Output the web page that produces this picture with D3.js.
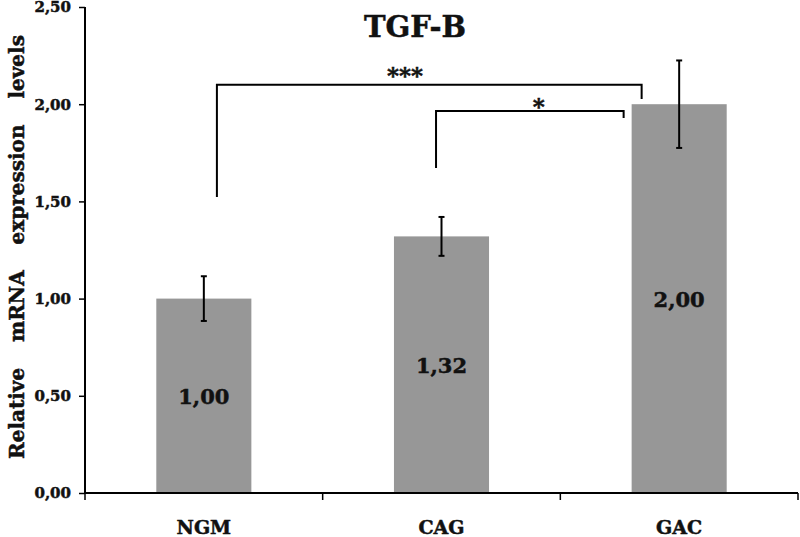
<!DOCTYPE html>
<html>
<head>
<meta charset="utf-8">
<script src="https://cdn.jsdelivr.net/npm/d3@7"></script>
<style>
  html, body { margin: 0; padding: 0; background: #fff; }
  svg { display: block; }
  text { font-family: "DejaVu Serif", serif; font-weight: bold; fill: #111; stroke: #111; stroke-width: 0.5px; }
</style>
</head>
<body>
<svg id="chart" width="800" height="537"></svg>
<script>
// ---- data ----
const categories = ["NGM", "CAG", "GAC"];
const values = [1.00, 1.32, 2.00];
const errors = [0.115, 0.10, 0.225];
const valueLabels = ["1,00", "1,32", "2,00"];
const yTicks = [0, 0.5, 1.0, 1.5, 2.0, 2.5];
const yTickLabels = ["0,00", "0,50", "1,00", "1,50", "2,00", "2,50"];
const title = "TGF-B";
const yAxisTitle = "Relative\u00a0\u00a0mRNA\u00a0\u00a0expression\u00a0\u00a0levels";
// significance brackets: from/to categories, top level, left & right drop ends (data units)
const sigFrom = ["NGM", "CAG"];
const sigTo = ["GAC", "GAC"];
const sigLevel = [2.10, 1.965];
const sigLeftEnd = [1.523, 1.672];
const sigRightEnd = [2.027, 1.929];
const sigLabel = ["***", "*"];

// ---- layout ----
const svg = d3.select("#chart");
const mLeft = 85, mRight = 798, mTop = 7, mBottom = 493;

const x = d3.scaleBand().domain(categories).range([mLeft, mRight]).padding(0);
const y = d3.scaleLinear().domain([0, 2.5]).range([mBottom, mTop]);
const barW = x.bandwidth() * 0.4;
const cx = c => x(c) + x.bandwidth() / 2;

// bars
svg.append("g").selectAll("rect").data(categories).join("rect")
  .attr("x", c => cx(c) - barW / 2)
  .attr("width", barW)
  .attr("y", (c, i) => y(values[i]))
  .attr("height", (c, i) => y(0) - y(values[i]))
  .attr("fill", "#979797");

// value labels inside bars
svg.append("g").selectAll("text").data(categories).join("text")
  .attr("x", c => cx(c))
  .attr("y", (c, i) => (y(values[i]) + y(0)) / 2 + 8)
  .attr("text-anchor", "middle")
  .attr("font-size", 21)
  .text((c, i) => valueLabels[i]);

// error bars
const eg = svg.append("g").attr("stroke", "#000").attr("stroke-width", 2);
categories.forEach((c, i) => {
  const x0 = cx(c);
  const y1 = y(values[i] + errors[i]), y2 = y(values[i] - errors[i]);
  eg.append("line").attr("x1", x0).attr("x2", x0).attr("y1", y1).attr("y2", y2);
  eg.append("line").attr("x1", x0 - 3).attr("x2", x0 + 3).attr("y1", y1).attr("y2", y1);
  eg.append("line").attr("x1", x0 - 3).attr("x2", x0 + 3).attr("y1", y2).attr("y2", y2);
});

// y axis
const yAxis = d3.axisLeft(y).tickValues(yTicks).tickSize(6)
  .tickFormat((d, i) => yTickLabels[i]);
const ya = svg.append("g").attr("transform", `translate(${mLeft},0)`).call(yAxis);
ya.select(".domain").attr("stroke", "#000").attr("stroke-width", 2).attr("d", `M0,${mTop}V${mBottom}`);
ya.selectAll(".tick line").attr("stroke", "#000").attr("stroke-width", 1.5);
ya.selectAll(".tick text").attr("font-size", 15).attr("x", -14)
  .attr("font-family", "DejaVu Serif").attr("font-weight", "bold").attr("fill", "#111");

// x axis
const xa = svg.append("g").attr("transform", `translate(0,${mBottom})`);
xa.append("line").attr("x1", mLeft).attr("x2", mRight).attr("stroke", "#000").attr("stroke-width", 2);
const bounds = categories.map(c => x(c)).concat([mRight]);
xa.selectAll("line.tk").data(bounds).join("line").attr("class", "tk")
  .attr("x1", d => d).attr("x2", d => d).attr("y1", 0).attr("y2", 7)
  .attr("stroke", "#000").attr("stroke-width", 1.5);
xa.selectAll("text").data(categories).join("text")
  .attr("x", c => cx(c)).attr("y", 41)
  .attr("text-anchor", "middle").attr("font-size", 19)
  .text(c => c);

// significance brackets
const sg = svg.append("g");
sigFrom.forEach((f, i) => {
  const xl = i === 0 ? cx(f) + x.bandwidth() * 0.055 : cx(f) - x.bandwidth() * 0.023;
  const xr = i === 0 ? cx(sigTo[i]) - barW / 2 + 10 : cx(sigTo[i]) - barW / 2 - 8;
  const yl = y(sigLevel[i]);
  sg.append("path")
    .attr("d", `M${xl},${y(sigLeftEnd[i])}V${yl}H${xr}V${y(sigRightEnd[i])}`)
    .attr("fill", "none").attr("stroke", "#000").attr("stroke-width", 2);
  sg.append("text")
    .attr("x", i === 0 ? 405 : (xl + xr) / 2 + 9)
    .attr("y", i === 0 ? yl - 2 : yl + 3)
    .attr("text-anchor", "middle")
    .attr("font-size", 23)
    .text(sigLabel[i]);
});

// title
svg.append("text").attr("x", 415).attr("y", 37).attr("text-anchor", "middle")
  .attr("font-size", 29).text(title);

// y axis title
svg.append("text")
  .attr("transform", `translate(24,247) rotate(-90)`)
  .attr("text-anchor", "middle").attr("font-size", 20)
  .attr("word-spacing", 6)
  .text(yAxisTitle);
</script>
</body>
</html>
